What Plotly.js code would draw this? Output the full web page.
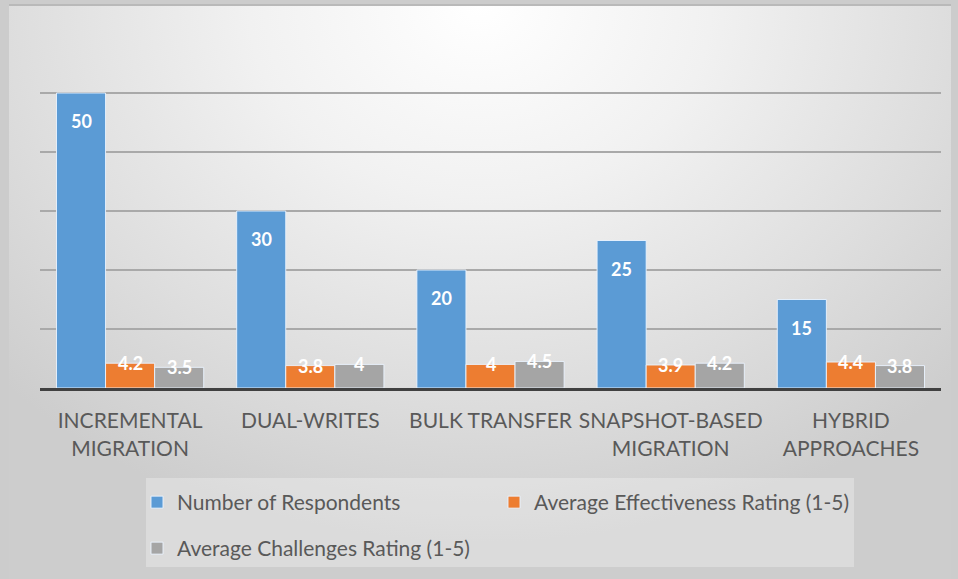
<!DOCTYPE html>
<html>
<head>
<meta charset="utf-8">
<script src="https://cdn.plot.ly/plotly-3.0.1.min.js"></script>
<style>
  html, body { margin: 0; padding: 0; background: #cbcbcb; }
  #wrap { position: absolute; left: 0; top: 0; width: 958px; height: 579px; overflow: hidden;
          background: #cccccc; }
  #bg { position: absolute; left: 9px; top: 4px; width: 942px; height: 575px;
        border-top: 2px solid #b9b9b9;
        background: radial-gradient(ellipse 70% 95% at 50% 0%, #ffffff 0%, #f1f1f1 35%, #dedede 70%, #cdcdcd 100%); }
  #chart { position: absolute; left: 0; top: 0; width: 958px; height: 579px; }
</style>
</head>
<body>
<div id="wrap">
  <div id="bg"></div>
  <div id="chart"></div>
</div>
<script>
const categories = ["INCREMENTAL<br>MIGRATION", "DUAL-WRITES", "BULK TRANSFER", "SNAPSHOT-BASED<br>MIGRATION", "HYBRID<br>APPROACHES"];
const respondents = [50, 30, 20, 25, 15];
const effectiveness = [4.2, 3.8, 4, 3.9, 4.4];
const challenges = [3.5, 4, 4.5, 4.2, 3.8];
const seriesNames = ["Number of Respondents", "Average Effectiveness Rating (1-5)", "Average Challenges Rating (1-5)"];
const colors = ["#5B9BD5", "#ED7D31", "#A5A5A5"];

const W = 958, H = 579;
const margin = {l: 40, r: 17, t: 34, b: 191};
const bargap = 0.183;
const plotW = W - margin.l - margin.r;
const plotH = H - margin.t - margin.b;
const barW = plotW / categories.length * (1 - bargap) / 3;

const legendIds = ['legend', 'legend2', 'legend3'];
const seriesData = [respondents, effectiveness, challenges];
const traces = seriesData.map((vals, i) => ({
  type: 'bar',
  name: seriesNames[i],
  x: categories,
  y: vals,
  marker: {color: colors[i], line: {color: 'rgba(235,244,255,0.9)', width: 1}},
  legend: legendIds[i],
  hoverinfo: 'x+y+name'
}));

const annotations = [];
seriesData.forEach((vals, i) => {
  vals.forEach((v, j) => {
    annotations.push({
      x: categories[j], y: v, xref: 'x', yref: 'y',
      text: String(v), showarrow: false,
      xshift: (i - 1) * barW,
      yshift: i === 0 ? -28 : 0,
      yanchor: 'middle', xanchor: 'center',
      font: {family: 'Lato, "Open Sans", sans-serif', size: 18, color: '#ffffff', weight: 'bold'}
    });
  });
});

const px2x = px => (px - margin.l) / plotW;
const py2y = py => (margin.t + plotH - py) / plotH;
const cx = px => px / W;
const cy = py => 1 - py / H;

const legendStyle = (px, py) => ({
  orientation: 'h', xref: 'container', yref: 'container',
  x: cx(px), xanchor: 'left', y: cy(py), yanchor: 'top',
  bgcolor: 'rgba(0,0,0,0)', itemclick: false,
  font: {size: 21, color: '#595959'}
});

const layout = {
  width: W, height: H,
  margin: margin,
  paper_bgcolor: 'rgba(0,0,0,0)',
  plot_bgcolor: 'rgba(0,0,0,0)',
  barmode: 'group',
  bargap: bargap,
  bargroupgap: 0,
  font: {family: 'Lato, "Open Sans", sans-serif', color: '#595959'},
  xaxis: {
    type: 'category',
    showline: true, linecolor: '#404040', linewidth: 3,
    ticks: '', ticklabelstandoff: 12,
    tickfont: {size: 21, color: '#595959'},
    showgrid: false, fixedrange: true, automargin: false
  },
  yaxis: {
    range: [0, 60], dtick: 10,
    showticklabels: false, zeroline: false,
    showgrid: true, gridcolor: '#a9a9a9', gridwidth: 2,
    fixedrange: true, automargin: false
  },
  shapes: [{
    type: 'rect', xref: 'paper', yref: 'paper', layer: 'below',
    x0: px2x(146), x1: px2x(854), y0: py2y(567), y1: py2y(478),
    fillcolor: 'rgba(255,255,255,0.28)', line: {width: 0}
  }],
  showlegend: true,
  legend: legendStyle(137, 482),
  legend2: legendStyle(494, 482),
  legend3: legendStyle(137, 528),
  annotations: annotations
};

Plotly.newPlot('chart', traces, layout, {displayModeBar: false, staticPlot: true});
</script>
</body>
</html>
